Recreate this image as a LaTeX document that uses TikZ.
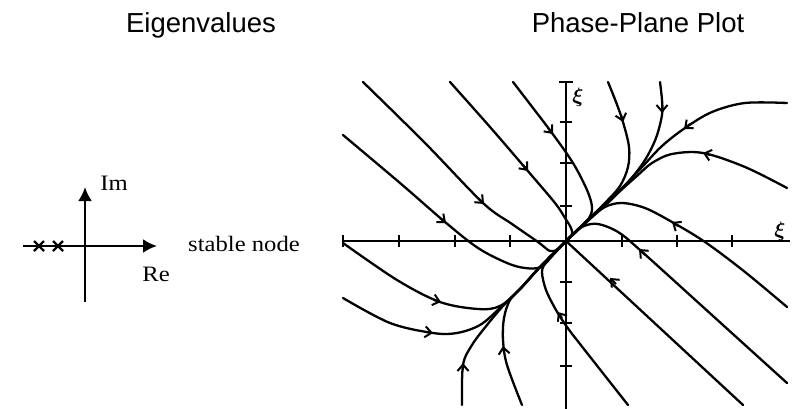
\documentclass[tikz,border=0pt]{standalone}
\usepackage{fontspec}
\usepackage{bm}
\setmainfont{Liberation Serif}
\newfontfamily\titlefont{Liberation Sans}
\usetikzlibrary{arrows.meta}
\begin{document}
\begin{tikzpicture}[x=1pt,y=-1pt,
  traj/.style={line width=2.3pt, line cap=round, line join=round},
  axisline/.style={line width=2.9pt},
  tickmark/.style={line width=2.2pt},
  barb/.style={line width=2pt, -{Straight Barb[length=6.5pt,width=11pt]}},
  eaxis/.style={line width=2.6pt, -{Latex[length=14pt,width=14pt]}},
  serif/.style={font=\fontsize{22}{24}\selectfont, xscale=1.12, transform shape, inner sep=0pt},
  ttl/.style={font=\titlefont\fontsize{27.5}{30}\selectfont, inner sep=0pt, anchor=base}]
\useasboundingbox (0,0) rectangle (792,409);
% titles
\node[ttl] (t1) at (201,33) {Eigenvalues};
\node[ttl] (t2) at (638,33) {Phase-Plane Plot};
% eigenvalue plane
\coordinate (el) at (23,246);
\coordinate (er) at (157,246);
\coordinate (eb) at (85,302);
\coordinate (et) at (85,187);
\draw[eaxis] (el) -- (er);
\draw[eaxis] (eb) -- (et);
\foreach \cx in {39,58}{
  \draw[line width=2.2pt] (\cx-5,241) -- (\cx+5,251) (\cx-5,251) -- (\cx+5,241);
}
\node[serif] (im) at (114,183) {Im};
\node[serif] (re) at (156,274) {Re};
\node[serif] (sn) at (244,244) {stable node};
% phase plane axes
\coordinate (O) at (566,241);
\coordinate (hl) at (343,241);
\coordinate (hr) at (790,241);
\coordinate (vt) at (566,82);
\coordinate (vb) at (566,409);
\draw[axisline] (hl) -- (hr);
\draw[axisline] (vt) -- (vb);
\foreach \tx in {343,399,455,510,622,677,732}{
  \draw[tickmark] (\tx,235) -- (\tx,247);
}
\foreach \ty in {122,163,206,282,323,366}{
  \draw[tickmark] (560,\ty) -- (572,\ty);
}
\draw[tickmark] (559,82) -- (573,82);
\node[font=\fontsize{22}{22}\selectfont, inner sep=0pt] (x2) at (578,97) {$\bm{\xi}$};
\node[font=\fontsize{22}{22}\selectfont, inner sep=0pt] (x1) at (780,231) {$\bm{\xi}$};
% trajectories
\draw[traj] plot[smooth, tension=0.55] coordinates {(343,135) (400,183) (445,222) (478,248) (507,263) (525,268) (541,267) (554,254) (566,241)};
\draw[traj] plot[smooth, tension=0.55] coordinates {(363,82) (425,143) (483,203) (512,224) (538,242) (550,251) (558,249) (566,241)};
\draw[traj] plot[smooth, tension=0.55] coordinates {(450,82) (490,127) (527,170) (555,203) (565,218) (571,228) (572,235) (566,241)};
\draw[traj] plot[smooth, tension=0.55] coordinates {(513,82) (533,108) (552,133) (573,163) (587,190) (592,207) (589,218) (578,230) (566,241)};
\draw[traj] plot[smooth, tension=0.55] coordinates {(608,82) (616,102) (623,122) (629,147) (628,167) (620,186) (605,203) (588,220) (566,241)};
\draw[traj] plot[smooth, tension=0.55] coordinates {(660,82) (662,100) (662,115) (656,138) (645,160) (630,180) (612,199) (590,219) (566,241)};
\draw[traj] plot[smooth, tension=0.55] coordinates {(787,103) (745,103) (712,112) (685,128) (662,146) (643,166) (622,188) (594,214) (566,241)};
\draw[traj] plot[smooth, tension=0.55] coordinates {(787,188) (745,167) (703,153) (672,154) (652,163) (638,175) (620,191) (594,214) (566,241)};
\draw[traj] plot[smooth, tension=0.55] coordinates {(787,307) (745,272) (705,242) (672,222) (645,208) (622,203) (605,207) (588,220) (566,241)};
\draw[traj] plot[smooth, tension=0.55] coordinates {(787,383) (713,316) (640,250) (618,232) (598,224) (584,226) (574,233) (566,241)};
\draw[traj] (743,405) -- (O);
\draw[traj] plot[smooth, tension=0.55] coordinates {(628,405) (580,344) (567,327) (556,310) (546,290) (542,272) (546,262) (556,251) (566,241)};
\draw[traj] plot[smooth, tension=0.55] coordinates {(343,243) (397,280) (440,302) (478,309) (500,306) (520,289) (540,267) (566,241)};
\draw[traj] plot[smooth, tension=0.55] coordinates {(343,298) (390,323) (433,333) (457,333) (480,325) (500,308) (520,289) (540,267) (566,241)};
\draw[traj] plot[smooth, tension=0.55] coordinates {(462,405) (463,365) (472,345) (487,325) (503,306) (520,289) (540,267) (566,241)};
\draw[traj] plot[smooth, tension=0.55] coordinates {(522,405) (507,365) (503,340) (504,318) (510,300) (522,287) (540,267) (566,241)};
% arrowheads
\draw[barb] (440,218) -- (446,223);
\draw[barb] (478,198) -- (484,204);
\draw[barb] (523,165) -- (528,171);
\draw[barb] (548,128) -- (553,134);
\draw[barb] (621,115) -- (623,122);
\draw[barb] (662,106) -- (662,113);
\draw[barb] (690,124) -- (684,129);
\draw[barb] (710,155) -- (703,153);
\draw[barb] (678,226) -- (672,222);
\draw[barb] (645,255) -- (639,249);
\draw[barb] (616,284) -- (610,278);
\draw[barb] (562,318) -- (558,312);
\draw[barb] (434,300) -- (441,302);
\draw[barb] (426,332) -- (433,333);
\draw[barb] (463,370) -- (463,363);
\draw[barb] (504,353) -- (503,346);
\end{tikzpicture}
\end{document}
